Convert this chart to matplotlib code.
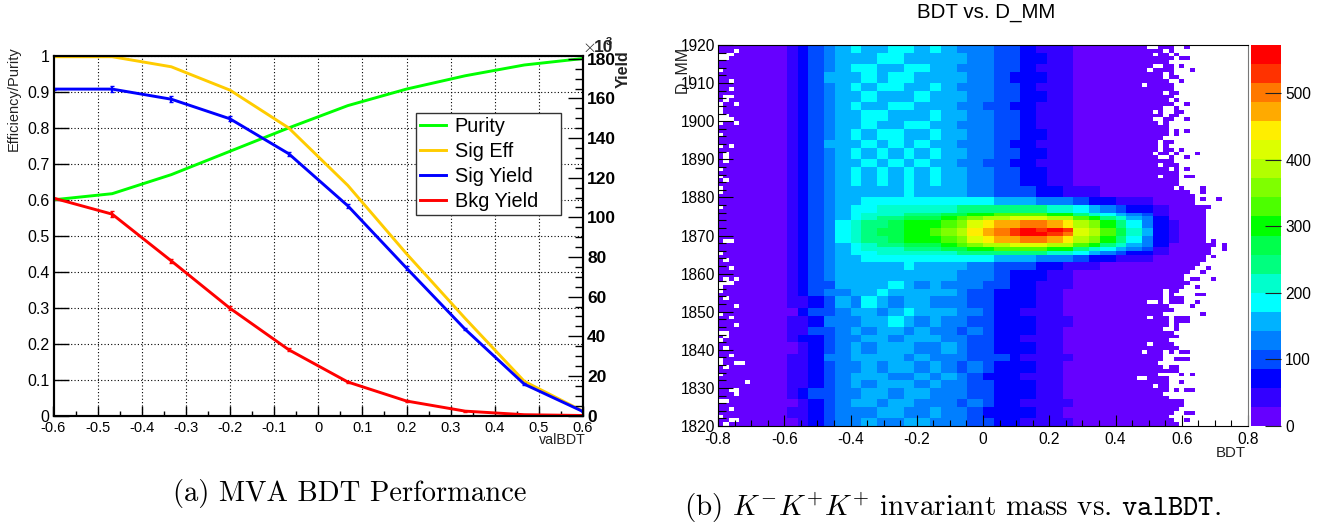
import numpy as np
import matplotlib
matplotlib.use('Agg')
from matplotlib import pyplot as plt
from matplotlib.colors import ListedColormap, BoundaryNorm
from matplotlib.lines import Line2D
from matplotlib.ticker import MultipleLocator, FuncFormatter

# left panel data
cut_values = [-0.6, -0.467, -0.333, -0.2, -0.067, 0.067, 0.2, 0.333, 0.467, 0.6]
purity = [0.60, 0.617, 0.67, 0.735, 0.80, 0.862, 0.908, 0.945, 0.975, 0.993]
sig_eff = [0.998, 0.998, 0.97, 0.905, 0.80, 0.64, 0.45, 0.27, 0.095, 0.012]
sig_yield = [164.7, 164.7, 159.6, 149.7, 132.1, 105.8, 74.4, 43.5, 15.8, 2.0]
bkg_yield = [109.7, 101.6, 78.0, 54.1, 33.2, 16.9, 7.3, 2.2, 0.4, 0.0]
sig_err = [0.3, 1.5, 1.4, 1.2, 1.0, 0.9, 0.8, 0.6, 0.4, 0.1]
bkg_err = [0.3, 1.4, 1.2, 1.0, 0.8, 0.5, 0.4, 0.2, 0.1, 0.0]

# right panel data, counts, bottom row first
mm_edges = [1820, 1822.4, 1824.8, 1827.2, 1829.6, 1832, 1834.4, 1836.8, 1839.2, 1841.6, 1844, 1846.4, 1848.8, 1851.2, 1853.6, 1856,
            1858.4, 1861, 1863.2, 1864.7, 1866, 1867.2, 1868.4, 1869.7, 1871, 1872.3, 1873.5, 1874.8, 1876.2, 1877.8, 1880,
            1883, 1887.5, 1890, 1892.5, 1895, 1897.5, 1900, 1902.5, 1905, 1907.5, 1910, 1912.5, 1915, 1917.5, 1920]
counts = [
    [3,5,8,13,18,26,48,72,98,120,136,152,140,128,146,150,122,128,118,90,104,64,78,50,50,30,32,16,12,9,7,5,4,3,2,2,2],
    [3,5,9,12,19,33,55,84,110,132,128,140,158,150,134,138,155,118,126,112,82,80,62,68,42,38,22,20,11,9,7,5,4,3,2,2,2],
    [3,4,8,14,17,28,50,76,100,126,150,146,132,164,158,122,136,142,108,118,98,70,74,52,52,32,30,15,13,8,6,5,3,3,2,2,2],
    [3,5,9,13,20,32,58,86,112,118,138,160,152,136,148,160,140,120,132,96,88,84,60,64,40,36,24,19,12,9,7,4,4,3,2,2,2],
    [3,5,8,12,18,30,52,74,104,134,144,132,148,154,166,132,152,136,116,110,100,66,76,58,54,30,26,14,11,8,6,5,3,3,2,2,2],
    [3,4,9,14,16,34,56,82,96,122,156,150,164,128,142,156,128,146,124,102,84,78,64,48,44,40,28,20,13,9,7,5,4,3,2,2,2],
    [3,5,8,13,21,29,48,80,108,136,130,148,140,160,152,138,160,126,112,120,96,72,70,62,50,34,23,16,10,8,6,4,3,3,2,2,2],
    [3,5,9,12,18,31,54,72,116,124,146,166,154,146,130,162,142,134,128,98,92,86,58,56,46,30,31,18,13,9,7,5,4,3,2,2,2],
    [3,4,8,14,20,27,50,84,102,130,152,136,160,168,150,140,134,150,118,114,86,68,76,66,42,38,25,17,12,8,6,5,3,3,2,2,2],
    [3,5,9,13,17,35,58,78,110,140,138,154,144,134,166,152,158,128,130,104,102,76,66,54,52,32,27,21,11,9,7,4,4,3,2,2,2],
    [3,5,8,12,19,30,52,88,98,126,160,142,170,156,138,148,138,140,114,116,90,82,72,60,44,36,24,15,13,8,6,5,3,3,2,2,2],
    [3,4,9,14,22,33,56,76,118,138,134,164,150,176,160,132,152,124,134,100,98,70,62,68,50,34,30,18,10,9,7,5,4,3,2,2,2],
    [3,5,8,13,18,28,60,90,106,130,156,148,140,152,172,158,144,146,120,122,88,84,78,52,46,40,23,19,12,8,6,4,3,3,2,2,2],
    [3,5,9,12,21,36,50,80,114,144,142,172,162,138,146,166,130,136,126,108,104,74,64,64,54,30,28,16,13,9,7,5,4,3,2,2,2],
    [3,4,8,14,19,31,62,86,120,128,164,146,178,158,154,150,156,148,116,112,94,80,70,58,42,38,26,20,11,8,6,5,3,3,2,2,2],
    [3,5,9,13,20,34,58,92,110,146,150,168,150,172,164,142,148,140,136,118,100,88,76,60,50,36,29,18,13,9,7,4,4,3,2,2,2],
    [3,5,9,14,22,38,68,100,120,145,161,166,167,167,170,164,160,153,139,125,115,98,82,69,58,47,37,28,20,15,12,9,6,4,3,2,2],
    [3,5,9,14,22,38,68,100,121,147,163,169,170,171,175,169,166,160,148,136,128,113,97,86,75,64,53,42,33,26,22,16,12,7,4,2,2],
    [3,5,9,14,22,38,68,100,124,150,169,179,183,186,192,188,187,186,182,178,177,166,156,149,140,126,115,94,81,68,57,44,31,18,8,3,2],
    [3,5,9,14,22,38,68,100,128,156,179,195,203,209,218,216,220,226,234,242,251,249,246,246,240,222,209,173,155,132,111,85,61,34,15,4,2],
    [3,5,9,14,22,38,68,100,131,162,188,209,220,228,241,241,247,260,278,296,313,319,322,328,325,304,289,241,218,186,158,121,87,48,20,5,2],
    [3,5,9,14,22,38,68,100,135,167,197,224,239,250,266,268,278,298,327,357,384,398,408,419,420,395,378,317,289,247,209,161,116,64,26,6,2],
    [3,5,9,14,22,38,68,100,138,172,205,237,255,269,287,291,304,330,369,408,443,464,480,497,500,472,453,380,348,298,253,194,140,77,32,8,2],
    [3,5,9,14,22,38,68,100,140,174,209,243,263,278,297,302,317,346,390,434,473,497,515,550,556,530,500,412,378,324,275,211,152,83,34,8,3],
    [3,5,9,14,22,38,68,100,140,174,209,243,263,278,297,302,317,346,390,440,480,505,535,560,540,545,515,412,378,324,275,211,152,83,34,8,3],
    [3,5,9,14,22,38,68,100,138,172,205,237,255,269,287,291,304,330,369,408,443,464,480,497,500,472,453,380,348,298,253,194,140,77,32,8,2],
    [3,5,9,14,22,38,68,100,135,167,197,224,239,250,266,268,278,298,327,357,384,398,408,419,420,395,378,317,289,247,209,161,116,64,26,6,2],
    [3,5,9,14,22,38,68,100,131,162,188,209,220,228,241,241,247,260,278,296,313,319,322,328,325,304,289,241,218,186,158,121,87,48,20,5,2],
    [3,5,9,14,22,38,68,100,128,156,179,195,203,209,218,216,220,226,234,242,251,249,246,246,240,222,209,173,155,132,111,85,61,34,15,4,2],
    [3,5,9,14,22,38,68,100,124,150,169,179,183,186,192,188,187,186,182,178,177,166,156,149,140,126,115,94,81,68,57,44,31,18,8,3,2],
    [3,5,9,14,22,38,68,100,121,147,163,169,170,171,175,169,166,160,148,136,128,113,97,86,75,64,53,42,33,26,22,16,12,7,4,2,2],
    [3,5,8,13,21,40,66,104,132,152,176,160,184,168,178,152,172,146,158,124,134,100,92,68,58,42,38,22,16,10,8,6,4,3,2,2,2],
    [3,5,9,12,20,36,72,96,140,162,156,178,160,176,164,182,150,166,132,138,112,112,84,76,52,48,32,27,14,11,7,6,4,3,2,2,2],
    [3,4,8,14,22,42,64,108,126,150,182,164,176,156,186,166,176,150,150,122,130,98,94,66,60,44,36,24,15,10,8,5,4,3,2,2,2],
    [3,5,9,13,19,34,70,94,144,168,160,186,158,180,160,174,156,170,136,140,116,110,82,78,50,46,34,26,16,11,7,6,3,3,2,2,2],
    [3,5,8,14,21,40,62,110,130,156,178,154,172,190,170,156,180,148,156,126,128,96,90,70,58,42,38,23,14,10,8,5,4,3,2,2,2],
    [3,4,9,12,23,38,74,98,138,146,168,180,166,162,182,178,152,164,134,134,120,114,86,68,54,48,30,27,16,12,7,6,3,3,2,2,2],
    [3,5,8,15,20,36,66,102,128,170,156,172,188,170,158,164,174,144,150,120,132,100,94,74,56,44,36,24,15,10,8,5,4,3,2,2,2],
    [3,5,9,13,22,42,68,92,142,150,176,160,164,182,176,152,158,168,138,136,114,106,82,70,52,46,32,26,14,11,7,6,3,3,2,2,2],
    [3,4,8,14,19,38,72,106,132,164,164,184,170,156,168,186,164,146,146,128,126,102,88,76,60,42,38,22,16,10,8,5,4,3,2,2,2],
    [3,5,9,12,21,34,64,100,126,154,178,158,176,172,154,170,178,156,142,124,118,108,92,66,54,48,34,27,15,11,7,6,4,3,2,2,2],
    [3,5,8,14,23,40,70,110,146,166,152,174,162,188,176,160,150,166,152,138,130,96,84,74,58,44,36,23,14,10,8,5,3,3,2,2,2],
    [3,4,9,13,20,36,62,94,130,148,172,186,168,158,184,172,170,148,136,122,122,112,90,70,50,46,30,26,16,12,7,6,4,3,2,2,2],
    [3,5,8,15,22,42,74,104,138,168,160,166,180,174,160,154,162,160,148,134,128,100,86,72,60,42,38,24,15,10,8,5,3,3,2,2,2],
    [3,5,9,12,19,38,66,98,124,152,180,170,158,190,172,168,176,144,140,126,116,104,92,76,54,48,32,22,14,11,7,6,4,3,2,2,2],
]
cbar_colours = ['#6600ff', '#3300ff', '#0000ff', '#004cff', '#007fff', '#00b2ff', '#00ffff', '#00ffcc',
                '#00ff7f', '#00ff4c', '#00ff00', '#4cff00', '#7fff00', '#b2ff00', '#dcff00', '#ffee00',
                '#ffaa00', '#ff7800', '#ff3200', '#ff0000']
cbar_top = 572

# last filled bin of each fine row, bottom row first
last_bin = [86,85,84,85,86,87,86,84,83,84,84,84,84,82,84,83,82,83,83,83,86,85,84,86,85,83,84,84,84,83,
            85,84,81,83,83,83,87,87,87,87,88,89,90,91,91,92,92,93,91,91,91,91,91,91,91,91,91,92,89,89,
            89,88,87,86,86,86,86,86,86,85,85,86,85,84,85,83,84,84,84,84,85,86,87,86,85,86,85,86,85,85,
            84,86,85,85,85,84,85,86,85,85]
stray_bins = [(88,99),(87,96),(88,96),(87,94),(89,93),(87,90),(88,84),(88,80),(86,77),(88,77),(86,76),(87,72),
              (90,71),(88,70),(88,67),(88,65),(89,65),(91,62),(91,61),(91,59),(94,59),(93,48),(95,47),(95,46),
              (93,44),(92,41),(91,40),(89,38),(90,38),(93,38),(88,37),(90,36),(85,35),(86,35),(85,34),(90,34),
              (91,34),(85,33),(86,33),(87,33),(83,32),(85,32),(86,32),(87,32),(90,32),(89,31),(91,29),(86,28),
              (87,28),(88,28),(86,27),(87,27),(88,27),(86,26),(86,25),(85,19),(87,19),(88,19),(86,17),(87,17),
              (88,17),(85,15),(86,15),(85,14),(86,14),(87,13),(89,13),(87,11),(86,9),(88,9),(89,9),(86,6),
              (87,6),(88,3),(89,3),(88,1)]
empty_bins = [(81,99),(82,99),(84,98),(82,97),(85,97),(82,94),(83,94),(81,93),(84,92),(84,91),(80,89),(84,87),
              (85,85),(84,83),(85,83),(82,82),(84,82),(85,82),(84,81),(82,80),(83,80),(83,79),(83,74),(83,73),
              (83,72),(82,71),(85,71),(83,70),(84,70),(83,68),(85,67),(83,65),(86,62),(81,32),(81,28),(79,12),
              (80,12),(81,21),(82,10),(80,19),
              (3,98),(0,97),(1,97),(2,97),(0,96),(1,96),(0,93),(2,90),(2,88),(1,86),(2,86),(1,85),(0,84),(3,84),
              (0,83),(0,82),(0,81),(1,81),(0,80),(1,80),(2,80),(0,79),(3,79),(0,76),(0,73),(2,73),(1,71),(1,70),
              (1,69),(0,67),(0,65),(1,64),(0,62),(0,61),(0,57),(1,48),(2,48),(0,45),(1,43),(2,41),(1,38),(3,38),
              (0,37),(1,37),(2,37),(0,36),(0,35),(1,33),(3,31),(0,29),(2,28),(3,26),(0,24),(1,24),(1,23),(0,22),
              (1,20),(2,18),(0,17),(0,16),(3,16),(4,16),(1,15),(0,13),(5,11),(2,9),(3,9),(3,8),(0,6),(1,6),(2,4),
              (0,2),(2,1),(3,1),(1,0)]

W, H = 1333, 527
SANS = 'Liberation Sans'
plt.rcParams['font.family'] = SANS
plt.rcParams['mathtext.fontset'] = 'cm'


def box(left, top, right, bottom):
    return [left / W, 1 - bottom / H, (right - left) / W, (bottom - top) / H]


def put(x, y, s, **kw):
    return fig.text(x / W, 1 - y / H, s, **kw)


def trim(v, pos):
    return '%g' % round(v, 3)


fig = plt.figure(figsize=(W / 100, H / 100), dpi=100)

# ---- left panel
ax = fig.add_axes(box(53.5, 56, 583, 415.5))
ax.set_xlim(-0.6, 0.6)
ax.set_ylim(0, 1)
ax.grid(True, color='black', linestyle=(0, (1, 2)), linewidth=0.8)
ax.set_axisbelow(True)
ax.xaxis.set_major_locator(MultipleLocator(0.1))
ax.xaxis.set_minor_locator(MultipleLocator(0.05))
ax.yaxis.set_major_locator(MultipleLocator(0.1))
ax.xaxis.set_major_formatter(FuncFormatter(trim))
ax.yaxis.set_major_formatter(FuncFormatter(trim))
ax.tick_params(axis='x', which='major', direction='in', length=7.5, width=1, labelsize=10.5, pad=4)
ax.tick_params(axis='x', which='minor', direction='in', length=3.8, width=1)
ax.tick_params(axis='y', which='major', direction='in', length=11, width=1, labelsize=11.5, pad=3)
ax.plot(cut_values, purity, color='#00ff00', lw=2.1)
ax.plot(cut_values, sig_eff, color='#ffcc00', lw=2.1)

ax2 = ax.twinx()
ax2.set_ylim(0, 181.4)
ax2.yaxis.set_major_locator(MultipleLocator(20))
ax2.yaxis.set_minor_locator(MultipleLocator(5))
ax2.tick_params(axis='y', which='major', direction='in', length=11, width=1, labelsize=12.5, pad=3)
ax2.tick_params(axis='y', which='minor', direction='in', length=6, width=1)
for t in ax2.get_yticklabels():
    t.set_fontweight('bold')
ax2.errorbar(cut_values, sig_yield, yerr=sig_err, color='#0000ff', lw=2.1, capsize=1.5, elinewidth=1.5)
ax2.errorbar(cut_values, bkg_yield, yerr=bkg_err, color='#ff0000', lw=2.1, capsize=1.5, elinewidth=1.5)
for a in (ax, ax2):
    for s in a.spines.values():
        s.set_linewidth(1.5)

handles = [Line2D([], [], color=c, lw=2.1) for c in ('#00ff00', '#ffcc00', '#0000ff', '#ff0000')]
leg = ax2.legend(handles, ['Purity', 'Sig Eff', 'Sig Yield', 'Bkg Yield'], fontsize=14.3,
                 loc='upper left', bbox_to_anchor=box(416, 113, 561, 216), bbox_transform=fig.transFigure,
                 mode='expand', borderaxespad=0, fancybox=False, framealpha=1, edgecolor='#333333',
                 labelspacing=0.3, handlelength=1.3, handletextpad=0.45, borderpad=0.2)
leg.get_frame().set_linewidth(1)

put(14, 99, 'Efficiency/Purity', rotation=90, ha='center', va='center', fontsize=10.5, color='#222222')
put(623, 69, 'Yield', rotation=90, ha='center', va='center', fontsize=11.5, fontweight='bold', color='#222222')
put(586, 440, 'valBDT', ha='right', va='center', fontsize=10.3, color='#222222')
put(582, 48, r'$\times$', ha='left', va='center', fontsize=13, color='#222222')
put(594, 47, '10', ha='left', va='center', fontsize=12.5, fontweight='bold', color='#222222')
put(606, 42, '3', ha='left', va='center', fontsize=8, fontweight='bold', color='#222222')

# ---- right panel
bdt_edges = np.linspace(-0.8, 0.8, 101)
mass_edges = np.linspace(1820, 1920, 101)
bdt_mid = (bdt_edges[:-1] + bdt_edges[1:]) / 2
mass_mid = (mass_edges[:-1] + mass_edges[1:]) / 2
col_of_bin = np.clip(((bdt_mid + 0.8) / 0.04).astype(int), 0, len(counts[0]) - 1)
row_of_bin = np.searchsorted(mm_edges, mass_mid) - 1
table = np.array(counts, dtype=float)
hist = table[row_of_bin][:, col_of_bin]
for r in range(100):
    hist[r, last_bin[r] + 1:] = np.nan
for b, r in stray_bins:
    hist[r, b] = 5
for b, r in empty_bins:
    hist[r, b] = np.nan

cmap = ListedColormap(cbar_colours)
cmap.set_bad('white')
norm = BoundaryNorm(np.linspace(0, cbar_top, 21), 20)
ax3 = fig.add_axes(box(718, 45, 1248, 426))
mesh = ax3.pcolormesh(bdt_edges, mass_edges, np.ma.masked_invalid(hist), cmap=cmap, norm=norm)
ax3.set_xlim(-0.8, 0.8)
ax3.set_ylim(1820, 1920)
ax3.xaxis.set_major_locator(MultipleLocator(0.2))
ax3.xaxis.set_minor_locator(MultipleLocator(0.05))
ax3.yaxis.set_major_locator(MultipleLocator(10))
ax3.yaxis.set_minor_locator(MultipleLocator(2))
ax3.xaxis.set_major_formatter(FuncFormatter(trim))
ax3.tick_params(axis='x', which='major', direction='in', length=8, width=0.8, labelsize=11.2, pad=4)
ax3.tick_params(axis='x', which='minor', direction='in', length=4, width=0.8)
ax3.tick_params(axis='y', which='major', direction='in', length=11, width=0.8, labelsize=11.2, pad=2)
ax3.tick_params(axis='y', which='minor', direction='in', length=5.5, width=0.8)
ax3.spines['right'].set_color('#777777')

cax = fig.add_axes(box(1251, 45, 1281, 426))
cb = fig.colorbar(mesh, cax=cax, ticks=[0, 100, 200, 300, 400, 500], spacing='proportional')
cb.outline.set_visible(False)
cb.ax.tick_params(direction='in', length=11.5, width=0.8, labelsize=11.2, pad=3, color='#222222')
cb.ax.yaxis.set_minor_locator(plt.NullLocator())

put(986, 13, 'BDT vs. D_MM', ha='center', va='center', fontsize=14.8, color='black')
put(1246, 453, 'BDT', ha='right', va='center', fontsize=10.8, color='#222222')
put(682, 69, 'D_MM', rotation=90, ha='center', va='center', fontsize=11.5, color='#222222')

# captions
put(173, 493, '(a) MVA BDT Performance', ha='left', va='center', family='cmr10', fontsize=20.6)
put(684, 508, r'(b) $K^{-}K^{+}K^{+}$ invariant mass vs. $\mathtt{valBDT}$.', ha='left', va='center',
    family='cmr10', fontsize=21)

fig.savefig('out.png', dpi=100)
